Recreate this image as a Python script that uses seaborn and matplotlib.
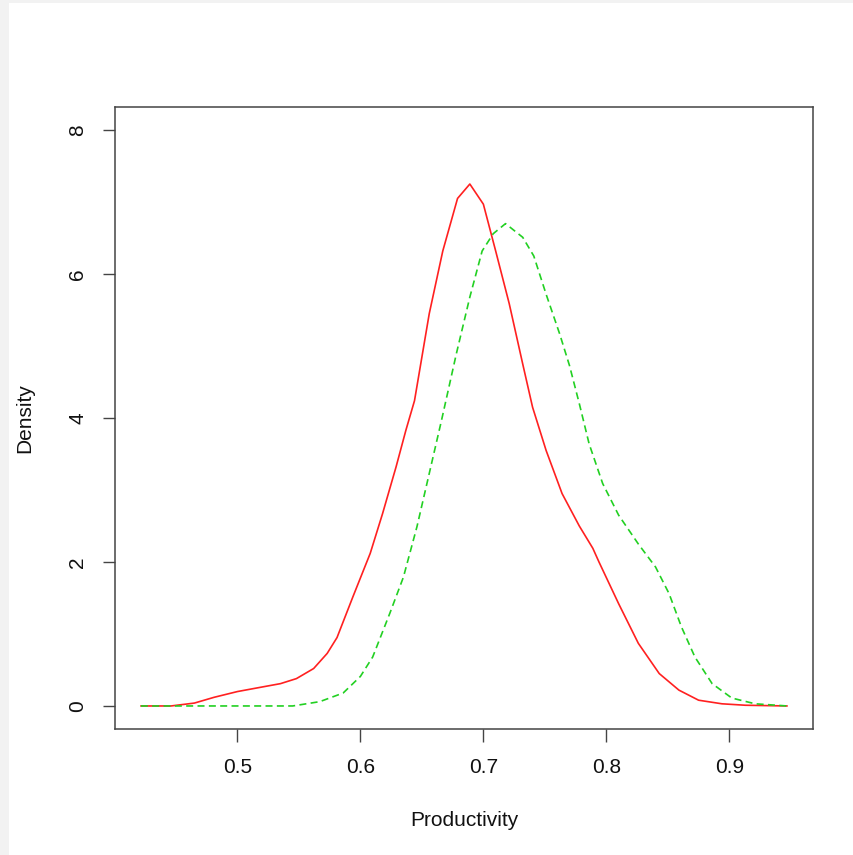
import numpy as np
import pandas as pd
import matplotlib
matplotlib.use("Agg")
import matplotlib.pyplot as plt
import matplotlib.patches as mpatches
import seaborn as sns

# ---- data ----
red_x = [0.4215, 0.446, 0.465, 0.481, 0.500, 0.519, 0.535, 0.548, 0.562, 0.573,
         0.581, 0.594, 0.608, 0.618, 0.629, 0.637, 0.644, 0.656, 0.667, 0.679, 0.689,
         0.700, 0.710, 0.721, 0.732, 0.740, 0.751, 0.764, 0.778, 0.789, 0.794,
         0.810, 0.826, 0.843, 0.859, 0.875, 0.894, 0.913, 0.947]
red_y = [0.0, 0.0, 0.04, 0.12, 0.20, 0.26, 0.31, 0.38, 0.52, 0.73,
         0.95, 1.52, 2.12, 2.67, 3.32, 3.83, 4.24, 5.45, 6.32, 7.05, 7.25,
         6.97, 6.32, 5.59, 4.75, 4.15, 3.55, 2.95, 2.50, 2.19, 2.00,
         1.42, 0.87, 0.45, 0.22, 0.08, 0.03, 0.01, 0.0]

green_x = [0.4215, 0.545, 0.567, 0.586, 0.600, 0.610, 0.624, 0.635, 0.646, 0.656,
           0.666, 0.678, 0.689, 0.699, 0.708, 0.718, 0.732, 0.741, 0.751, 0.762,
           0.770, 0.778, 0.786, 0.797, 0.810, 0.826, 0.840, 0.851, 0.861, 0.872,
           0.886, 0.902, 0.921, 0.947]
green_y = [0.0, 0.0, 0.06, 0.18, 0.41, 0.68, 1.29, 1.79, 2.49, 3.23,
           3.97, 4.89, 5.68, 6.32, 6.56, 6.70, 6.51, 6.25, 5.72, 5.17,
           4.73, 4.20, 3.64, 3.09, 2.65, 2.25, 1.93, 1.56, 1.10, 0.68,
           0.31, 0.11, 0.03, 0.0]

x_ticks = [0.5, 0.6, 0.7, 0.8, 0.9]
x_ticklabels = ["0.5", "0.6", "0.7", "0.8", "0.9"]
y_ticks = [0, 2, 4, 6, 8]
y_ticklabels = ["0", "2", "4", "6", "8"]
y_range = (0, 8)

red_df = pd.DataFrame({"Productivity": red_x, "Density": red_y})
green_df = pd.DataFrame({"Productivity": green_x, "Density": green_y})

sns.set_style("white")
plt.rcParams["font.family"] = ["Liberation Sans", "DejaVu Sans"]

fig = plt.figure(figsize=(8.54, 8.55), dpi=100)
fig.patch.set_facecolor("#f2f2f2")
fig.patches.append(mpatches.Rectangle((9 / 854, 0), 1, 1 - 3 / 855,
                                      transform=fig.transFigure,
                                      facecolor="white", edgecolor="none",
                                      zorder=-10))
ax = fig.add_axes([115 / 854, 126 / 855, 698 / 854, 622 / 855])
ax.set_facecolor("white")

sns.lineplot(data=red_df, x="Productivity", y="Density", ax=ax,
             color="#ff2020", linewidth=1.2)
sns.lineplot(data=green_df, x="Productivity", y="Density", ax=ax,
             color="#22d022", linewidth=1.2)
ax.lines[-1].set_dashes((4.2, 2.6))

# R-style 4% axis expansion
xmin = min(min(red_x), min(green_x))
xmax = max(max(red_x), max(green_x))
dx = (xmax - xmin) * 0.04
ax.set_xlim(xmin - dx, xmax + dx)
dy = (y_range[1] - y_range[0]) * 0.04
ax.set_ylim(y_range[0] - dy, y_range[1] + dy)

ax.set_xticks(x_ticks)
ax.set_xticklabels(x_ticklabels)
ax.set_yticks(y_ticks)
ax.set_yticklabels(y_ticklabels)
for lab in ax.get_yticklabels():
    lab.set_rotation(90)
    lab.set_va("center")

ax.tick_params(axis="both", direction="out", length=9, width=1.0,
               color="#444444", labelsize=15, labelcolor="#111111",
               bottom=True, left=True)
ax.tick_params(axis="x", pad=12)
ax.tick_params(axis="y", pad=11)

for sp in ax.spines.values():
    sp.set_visible(True)
    sp.set_color("#444444")
    sp.set_linewidth(1.1)

ax.set_xlabel("Productivity", fontsize=15, color="#111111")
ax.set_ylabel("Density", fontsize=15, color="#111111")
ax.xaxis.set_label_coords(0.5, -0.132)
ax.yaxis.set_label_coords(-0.115, 0.5)

fig.savefig("out.png", dpi=100, facecolor=fig.get_facecolor())
